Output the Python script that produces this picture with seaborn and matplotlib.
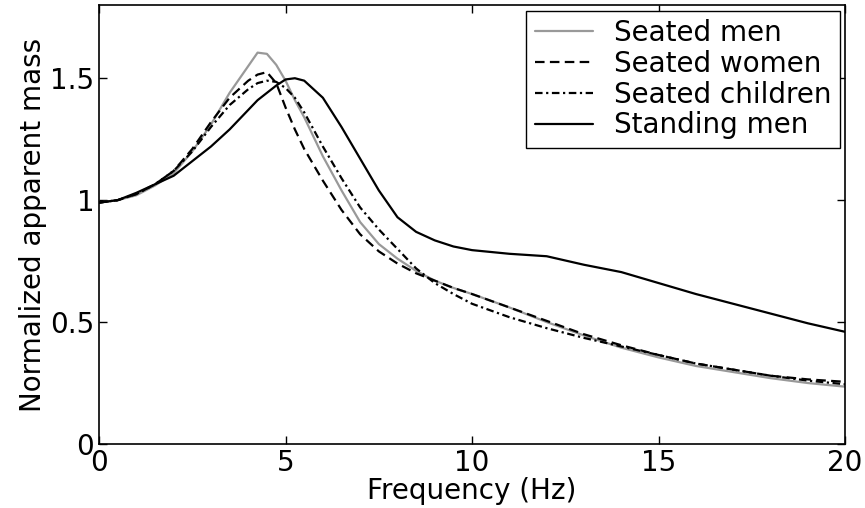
import pandas as pd
import matplotlib
matplotlib.use('Agg')
import matplotlib.pyplot as plt
import seaborn as sns

# Data
freq = [0, 0.5, 1, 1.5, 2, 2.5, 3, 3.5, 4, 4.25, 4.5, 4.75, 5, 5.25, 5.5,
        6, 6.5, 7, 7.5, 8, 8.5, 9, 9.5, 10, 11, 12, 13, 14, 15, 16, 17, 18, 19, 20]

seated_men = [0.99, 1.0, 1.02, 1.06, 1.11, 1.2, 1.31, 1.44, 1.55, 1.605, 1.60, 1.555, 1.49, 1.41, 1.34,
              1.18, 1.04, 0.91, 0.82, 0.76, 0.71, 0.67, 0.64, 0.615, 0.56, 0.5, 0.445, 0.395, 0.355,
              0.32, 0.295, 0.27, 0.25, 0.235]
seated_women = [0.99, 1.0, 1.025, 1.065, 1.12, 1.21, 1.32, 1.42, 1.49, 1.515, 1.525, 1.48, 1.38, 1.29, 1.21,
                1.08, 0.96, 0.86, 0.79, 0.74, 0.70, 0.67, 0.64, 0.615, 0.56, 0.505, 0.45, 0.405, 0.365,
                0.33, 0.305, 0.28, 0.265, 0.255]
seated_children = [0.99, 1.0, 1.025, 1.065, 1.12, 1.2, 1.3, 1.39, 1.455, 1.48, 1.49, 1.485, 1.46, 1.42, 1.36,
                   1.22, 1.09, 0.97, 0.88, 0.8, 0.72, 0.66, 0.615, 0.575, 0.52, 0.475, 0.435, 0.4, 0.365,
                   0.33, 0.305, 0.28, 0.26, 0.245]
standing_men = [0.99, 1.0, 1.03, 1.065, 1.1, 1.16, 1.22, 1.29, 1.37, 1.41, 1.44, 1.47, 1.495, 1.5, 1.49,
                1.42, 1.3, 1.17, 1.04, 0.93, 0.87, 0.835, 0.81, 0.795, 0.78, 0.77, 0.735, 0.705, 0.66,
                0.615, 0.575, 0.535, 0.495, 0.46]

labels = ['Seated men', 'Seated women', 'Seated children', 'Standing men']
y_ticks = [0, 0.5, 1, 1.5]
y_tick_labels = ['0', '0.5', '1', '1.5']
x_ticks = [0, 5, 10, 15, 20]

sns.set_theme(style='ticks')
plt.rcParams['font.family'] = ['DejaVu Sans']
plt.rcParams['text.color'] = 'black'
plt.rcParams['axes.labelcolor'] = 'black'

fig, ax = plt.subplots(figsize=(8.65, 5.08), dpi=100)
fig.subplots_adjust(left=0.1145, right=0.977, bottom=0.126, top=0.99)

styles = [
    ('#999999', '-'),
    ('black', (0, (4.3, 2.4))),
    ('black', (0, (3.4, 1.6, 1.0, 1.6))),
    ('black', '-'),
]
for vals, lab, (col, ls) in zip([seated_men, seated_women, seated_children, standing_men], labels, styles):
    sns.lineplot(x=freq, y=vals, ax=ax, color=col, linestyle=ls, lw=1.6, label=lab)

ax.set_xlim(0, 20)
ax.set_ylim(0, 1.8)
ax.set_xticks(x_ticks)
ax.set_xticklabels([str(t) for t in x_ticks])
ax.set_yticks(y_ticks)
ax.set_yticklabels(y_tick_labels)
ax.tick_params(direction='in', length=6, width=1, labelsize=20, top=True, right=True,
               colors='black', labelcolor='black')
for sp in ax.spines.values():
    sp.set_visible(True)
    sp.set_color('black')
    sp.set_linewidth(1.2)

ax.set_xlabel('Frequency (Hz)', fontsize=20, labelpad=0, color='black')
ax.set_ylabel('Normalized apparent mass', fontsize=20, labelpad=2, color='black')

leg = ax.legend(loc='upper right', fontsize=20, frameon=True, fancybox=False, framealpha=1,
                edgecolor='black', labelspacing=0.1, handlelength=2.1, handletextpad=0.75,
                borderpad=0.3, borderaxespad=0.2)
leg.get_frame().set_linewidth(1.0)
for t in leg.get_texts():
    t.set_color('black')

plt.savefig('out.png', dpi=100)
